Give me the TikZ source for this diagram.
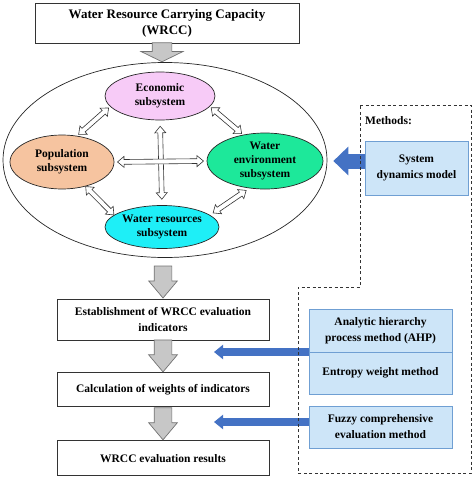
\documentclass[tikz,border=0pt]{standalone}
\usepackage{fontspec}
\setmainfont{Liberation Serif}
\usepackage{xcolor}
\usetikzlibrary{arrows.meta, positioning, calc, shapes.geometric, shapes.arrows}

\definecolor{ecoPink}{HTML}{F7CBF7}
\definecolor{popPeach}{HTML}{F6C4A0}
\definecolor{envGreen}{HTML}{1DE89A}
\definecolor{resCyan}{HTML}{1EEFF7}
\definecolor{methBlue}{HTML}{CDE5F8}
\definecolor{methEdge}{HTML}{6F9FD3}
\definecolor{arrBlue}{HTML}{4472C4}

\begin{document}
\begin{tikzpicture}[x=1pt, y=-1pt,
    every node/.style={font=\bfseries\fontsize{11.5}{16}\selectfont, align=center, inner sep=0pt},
    flowbox/.style={rectangle, draw=black!80, line width=0.9pt, minimum width=212pt},
    subsys/.style={ellipse, draw=black!85, line width=0.7pt, inner xsep=-4pt,
        font=\bfseries\fontsize{11.5}{14}\selectfont},
    methbox/.style={rectangle, draw=methEdge, fill=methBlue, line width=0.8pt, outer sep=0pt,
        minimum width=143pt, minimum height=42pt},
    grayarr/.style={single arrow, draw=black!55, fill=black!22, line width=0.7pt, minimum width=28pt,
        inner xsep=0pt, inner ysep=8.5pt, single arrow head extend=5.5pt, single arrow tip angle=80,
        rotate=-90, anchor=tip, minimum height=#1},
    dblarr/.style={double arrow, draw=black!80, fill=white, line width=0.6pt, minimum width=11pt,
        inner xsep=0pt, inner ysep=2pt, double arrow head extend=3pt, double arrow tip angle=80,
        sloped, minimum height=#1},
    bluearr/.style={draw=arrBlue, line width=#1}]
    \useasboundingbox (0,0) rectangle (474,477);
    \node[flowbox, minimum width=264pt, minimum height=40pt, font=\bfseries\fontsize{13}{16}\selectfont] (wrcc) at (167,23)
        {Water Resource Carrying Capacity\\(WRCC)};
    % subsystems
    \node[ellipse, draw=black!85, line width=0.7pt, minimum width=324pt, minimum height=195pt] (sys) at (165,160) {};
    \node[subsys, fill=ecoPink, minimum width=110pt, minimum height=48pt] (eco) at (160,96) {Economic\\subsystem};
    \node[subsys, fill=popPeach, minimum width=104pt, minimum height=54pt] (pop) at (62,162) {Population\\subsystem};
    \node[subsys, fill=envGreen, minimum width=116pt, minimum height=56pt] (env) at (265,161) {Water\\environment\\subsystem};
    \node[subsys, fill=resCyan, minimum width=114pt, minimum height=43pt] (wat) at (162,227) {Water resources\\subsystem};
    \path (eco.192) -- node[dblarr=40pt] {} (pop.60);
    \path (eco.348) -- node[dblarr=40pt] {} (env.130);
    \path (pop.314) -- node[dblarr=40pt] {} (wat.166);
    \path (env.240) -- node[dblarr=40pt] {} (wat.14);
    \path (eco.south) -- node[dblarr=73pt] {} (wat.north);
    \path (pop.east) -- node[dblarr=86pt] {} (env.west);
    % evaluation steps
    \node[flowbox, minimum height=41pt] (est) at (163,319.5) {Establishment of WRCC evaluation\\indicators};
    \node[flowbox, minimum height=34pt, below=32pt of est] (wgt) {Calculation of weights of indicators};
    \node[flowbox, minimum height=35pt, below=33pt of wgt] (res) {WRCC evaluation results};
    \node[grayarr=19pt, minimum width=41pt, inner ysep=9.5pt, single arrow head extend=11pt,
        single arrow tip angle=128] at ([xshift=-3pt]sys.north) {};
    \node[grayarr=32pt] at (est.north) {};
    \node[grayarr=32pt] at (wgt.north) {};
    \node[grayarr=32pt] at (res.north) {};
    % methods
    \node[anchor=west] (meth) at (365,121) {Methods:};
    \node[methbox, minimum width=103pt, minimum height=54pt] (sd) at (416.5,168) {System\\dynamics model};
    \node[methbox, minimum height=43pt] (ahp) at (380.5,330.5) {Analytic hierarchy\\process method (AHP)};
    \node[methbox, below=0pt of ahp] (ent) {Entropy weight method};
    \node[methbox, below=12pt of ent] (fuz) {Fuzzy comprehensive\\evaluation method};
    \coordinate (tipA) at (214,352);
    \draw[bluearr=15pt, -{Triangle[length=15pt, width=28pt]}] (sd.west |- env.east) -- ([xshift=10pt]env.east);
    \draw[bluearr=8pt, -{Triangle[length=9pt, width=14pt]}] (ahp.south west) -- (ahp.south west -| tipA);
    \draw[bluearr=8pt, -{Triangle[length=9pt, width=14pt]}] ([yshift=5pt]fuz.west) -- ([yshift=5pt]fuz.west -| tipA);
    \draw[dash pattern=on 3pt off 2.5pt, line width=1pt, black!80]
        (360,105) -- (471,105) -- (471,473) -- (298,473) -- (298,287) -- (360,287) -- cycle;
\end{tikzpicture}
\end{document}
